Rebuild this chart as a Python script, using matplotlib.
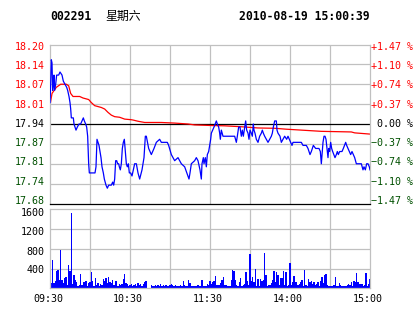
import matplotlib
matplotlib.use("Agg")
import matplotlib.pyplot as plt
import numpy as np


# ---------- dados ----------
PREV_CLOSE = 17.94

price_min = [
    0, 0.5, 1, 1.5, 2, 2.5, 3, 3.5, 4.25, 5, 6.5, 7.5, 9, 10, 11.25, 12.5, 13.25,
    14.25, 15, 15.5, 16, 16.75, 17.5, 18, 18.75, 19.5, 20.5, 21.75, 23, 24, 25,
    25.75, 26.75, 27.5, 28.25, 29, 29.5, 33.75, 34.5, 35.25, 36, 36.75, 37.5,
    38.25, 39, 40, 40.75, 42, 43, 44, 46, 47, 47.75, 48.5, 49.25, 50, 50.75,
    51.5, 52, 52.75, 53.5, 54.25, 55, 55.75, 56.5, 57.25, 58, 58.75, 59.5,
    60.5, 61.5, 63.5, 64.75, 66, 67.25, 69, 70.5, 71.5, 72.25, 74, 76, 78,
    79.75, 82.25, 83.5, 88, 89, 91, 93.5, 96, 98.5, 101, 103.5, 104.25, 105,
    106, 108.5, 109.75, 111, 112.5, 113.5, 114, 115, 115.5, 116.5, 117.25,
    118, 119, 119.75, 120.5, 121, 122, 123, 124.75, 125.5, 126.5, 127.25,
    127.75, 128.5, 129.75, 138.5, 139.75, 140.5, 141.5, 142.5, 143.5, 144.25,
    145, 146, 146.75, 147.5, 148.5, 149.25, 150, 151, 151.75, 152.5, 153,
    153.75, 154.75, 156, 157.25, 158.5, 159.25, 160, 161, 162.25, 163.5,
    164.75, 166, 166.75, 167.5, 168.5, 169.75, 170.25, 171, 172.5, 173.5,
    174.75, 176, 177.5, 178.5, 179.5, 180.5, 181.5, 182.25, 188.5, 189.75,
    192.25, 193.5, 195, 196, 197.5, 199.25, 201.75, 202.75, 203.5, 204,
    204.75, 205.5, 206.25, 207, 207.5, 208, 208.5, 209, 209.75, 210.5,
    211.25, 212, 213.75, 214.75, 215.5, 216.25, 217.25, 219, 220, 221.75,
    222.5, 223.5, 225.5, 226.5, 228.5, 229.75, 232.25, 233.5, 234.75, 235.5,
    236.5, 237.5, 238.5, 239.5, 240,
]
price_val = [
    18.01, 18.07, 18.15, 18.14, 18.05, 18.07, 18.10, 18.05, 18.07, 18.10, 18.10,
    18.11, 18.10, 18.08, 18.07, 18.06, 18.05, 18.03, 18.01, 17.99, 17.96, 17.96,
    17.96, 17.94, 17.93, 17.92, 17.93, 17.94, 17.94, 17.95, 17.96, 17.95, 17.94,
    17.93, 17.90, 17.81, 17.78, 17.78, 17.80, 17.89, 17.88, 17.87, 17.85, 17.83,
    17.80, 17.78, 17.76, 17.74, 17.73, 17.74, 17.74, 17.75, 17.74, 17.76, 17.82,
    17.82, 17.81, 17.81, 17.80, 17.79, 17.81, 17.86, 17.88, 17.89, 17.85, 17.81,
    17.80, 17.81, 17.78, 17.78, 17.77, 17.81, 17.81, 17.78, 17.76, 17.79, 17.83,
    17.90, 17.90, 17.86, 17.84, 17.86, 17.88, 17.89, 17.88, 17.88, 17.87, 17.84,
    17.82, 17.83, 17.81, 17.80, 17.77, 17.76, 17.78, 17.81, 17.82, 17.83, 17.82,
    17.79, 17.76, 17.81, 17.83, 17.81, 17.83, 17.80, 17.84, 17.85, 17.87, 17.89,
    17.91, 17.92, 17.93, 17.95, 17.94, 17.93, 17.91, 17.89, 17.92, 17.90, 17.90,
    17.88, 17.90, 17.93, 17.93, 17.90, 17.92, 17.90, 17.93, 17.95, 17.92, 17.91,
    17.89, 17.92, 17.91, 17.90, 17.94, 17.92, 17.91, 17.89, 17.88, 17.90, 17.91,
    17.92, 17.91, 17.90, 17.89, 17.88, 17.89, 17.90, 17.91, 17.93, 17.95, 17.95,
    17.92, 17.91, 17.90, 17.88, 17.89, 17.90, 17.89, 17.90, 17.89, 17.88, 17.87,
    17.88, 17.88, 17.87, 17.87, 17.86, 17.84, 17.85, 17.87, 17.86, 17.86, 17.85,
    17.81, 17.84, 17.88, 17.90, 17.90, 17.89, 17.87, 17.85, 17.83, 17.86, 17.85,
    17.88, 17.86, 17.85, 17.83, 17.84, 17.85, 17.84, 17.85, 17.85, 17.86, 17.88,
    17.87, 17.86, 17.84, 17.85, 17.83, 17.81, 17.81, 17.81, 17.79, 17.80, 17.79,
    17.81, 17.81, 17.80, 17.79,
]

avg_min = [0, 1.5, 4.75, 8, 12.25, 14, 15.5, 17.25, 22.25, 24.75, 29, 31, 33.5,
           38.5, 41, 43.5, 46, 48.5, 52.25, 56, 61, 62.25, 66, 71, 83.5, 93.5,
           103.5, 108.5, 121.5, 131, 143.5, 156, 168.5, 177.25, 188.5, 203.5,
           226, 228.5, 240]
avg_val = [18.00, 18.04, 18.06, 18.07, 18.07, 18.065, 18.04, 18.03, 18.03,
           18.025, 18.02, 18.01, 18.00, 17.994, 17.989, 17.978, 17.969, 17.964,
           17.962, 17.956, 17.954, 17.953, 17.949, 17.945, 17.945, 17.943,
           17.940, 17.937, 17.935, 17.934, 17.931, 17.927, 17.926, 17.923,
           17.920, 17.916, 17.914, 17.911, 17.907]

# volume por minuto (0 = 09:30, 240 = 15:00)
volume = [
    351, 101, 574, 101, 149, 351, 371, 169, 776, 169,
    101, 216, 236, 68, 472, 351, 1525, 81, 270, 169,
    122, 54, 68, 290, 68, 122, 135, 149, 54, 101,
    135, 324, 149, 54, 203, 68, 101, 40, 81, 68,
    189, 149, 203, 101, 223, 135, 101, 169, 68, 149,
    149, 40, 88, 68, 81, 189, 290, 101, 81, 40,
    68, 81, 40, 68, 81, 40, 101, 68, 81, 40,
    81, 122, 149, 0, 0, 0, 68, 47, 47, 68,
    47, 68, 47, 81, 47, 68, 47, 68, 47, 47,
    68, 81, 68, 47, 68, 47, 47, 47, 68, 47,
    149, 68, 47, 47, 169, 101, 47, 47, 47, 47,
    47, 68, 47, 47, 169, 47, 47,
    47, 81, 60,
    149, 81, 122, 149, 256, 68, 68, 68, 101, 169,
    236, 68, 68, 47, 47, 47, 169, 371, 351, 169,
    68, 47, 122, 216, 47, 68, 95, 337, 149, 68,
    695, 149, 236, 135, 391, 47, 189, 47, 189, 149,
    169, 715, 270, 47, 68, 68, 101, 169, 351, 135,
    337, 270, 68, 203, 203, 351, 68, 324, 47, 68,
    506, 68, 122, 250, 122, 122, 68, 95, 135, 162,
    47, 371, 68, 47, 189, 122, 149, 81, 135, 68,
    95, 135, 47, 149, 230, 101, 270, 290, 68, 47,
    47, 47, 47, 68, 230, 47, 47, 101, 68, 47,
    47, 47, 47, 68, 81, 68, 122, 47, 149, 122,
    304, 122, 81, 95, 95, 47, 68, 310, 47, 81, 189,
]
vol_min = np.arange(len(volume))

price_labels = ["17.68", "17.74", "17.81", "17.87", "17.94",
                "18.01", "18.07", "18.14", "18.20"]
pct_labels = ["\u22121.47 %", "\u22121.10 %", "\u22120.74 %", "\u22120.37 %",
              " 0.00 %", "+0.37 %", "+0.74 %", "+1.10 %", "+1.47 %"]
vol_labels = ["400", "800", "1200", "1600"]
time_labels = ["09:30", "10:30", "11:30", "14:00", "15:00"]
time_pos = [0, 60, 120, 180, 240]

RED = "#ff0000"
GREEN = "#005000"
BLUE = "#0000ff"
GRID = "#c0c0c0"
MONO = "DejaVu Sans Mono"
FS = 7.2

W, H = 414, 314


def box(l, t, r, b):
    return [l / W, 1 - b / H, (r - l) / W, (b - t) / H]


fig = plt.figure(figsize=(W / 100, H / 100), dpi=100)
fig.patch.set_facecolor("white")

ax = fig.add_axes(box(50, 44.5, 370, 203.5))
axv = fig.add_axes(box(50, 209.3, 370, 288.3))

# ---------- painel de preço ----------
ymin, ymax = 17.68, 18.20
ax.set_xlim(0, 240)
ax.set_ylim(ymin, ymax)
ax.set_xticks([])
ax.set_yticks([])
for lvl in np.linspace(ymin, ymax, 9)[1:-1]:
    if abs(lvl - PREV_CLOSE) < 1e-6:
        continue
    ax.axhline(lvl, color=GRID, lw=0.9, zorder=1)
for xm in range(30, 240, 30):
    ax.axvline(xm, color=GRID, lw=0.9, zorder=1)
ax.axhline(PREV_CLOSE, color="black", lw=0.9, zorder=1.5)

for sp in ax.spines.values():
    sp.set_color(GRID)
    sp.set_linewidth(0.9)
ax.spines["bottom"].set_color("black")

ax.plot(avg_min, avg_val, color=RED, lw=0.9, zorder=2)
ax.plot(price_min, price_val, color=BLUE, lw=0.9, zorder=3)

# rótulos dos eixos (posicionados como no original)
lab_y = np.linspace(0.016, 0.986, 9)
for i, (pl, cl) in enumerate(zip(price_labels, pct_labels)):
    if i < 4:
        c = GREEN
    elif i == 4:
        c = "black"
    else:
        c = RED
    ax.text(-0.017, lab_y[i], pl, transform=ax.transAxes, ha="right",
            va="center", color=c, family=MONO, fontsize=FS)
    ax.text(1.003, lab_y[i], cl, transform=ax.transAxes, ha="left",
            va="center", color=c, family=MONO, fontsize=FS)

# ---------- painel de volume ----------
axv.set_xlim(0, 240)
axv.set_ylim(0, 1600)
axv.set_xticks([])
axv.set_yticks([])
for lvl in [400, 800, 1200]:
    axv.axhline(lvl, color=GRID, lw=0.9, zorder=1)
for xm in range(30, 240, 30):
    axv.axvline(xm, color=GRID, lw=0.9, zorder=1)
for sp in axv.spines.values():
    sp.set_color(GRID)
    sp.set_linewidth(0.9)

axv.bar(vol_min, volume, width=0.8, color=BLUE, linewidth=0, zorder=2)

vlab_y = [0.232, 0.463, 0.709, 0.949]
for vl, yy in zip(vol_labels, vlab_y):
    axv.text(-0.017, yy, vl, transform=axv.transAxes, ha="right",
             va="center", color="black", family=MONO, fontsize=FS)

for tl, tp in zip(time_labels, time_pos):
    fig.text((50 + tp * 320 / 240 - 2) / W, 1 - 299 / H, tl, ha="center",
             va="center", color="black", family=MONO, fontsize=FS)

# ---------- título ----------
fig.text(50 / W, 1 - 16.5 / H, "002291", ha="left", va="center",
         family=MONO, fontsize=8.3, weight="bold")
fig.text(105 / W, 1 - 16.5 / H, "星期六", ha="left", va="center",
         family=["Noto Sans CJK SC", "DejaVu Sans"], fontsize=8.6)
fig.text(370 / W, 1 - 16.5 / H, "2010-08-19 15:00:39", ha="right",
         va="center", family=MONO, fontsize=8.3, weight="bold")

fig.savefig("out.png", dpi=100, facecolor="white")
